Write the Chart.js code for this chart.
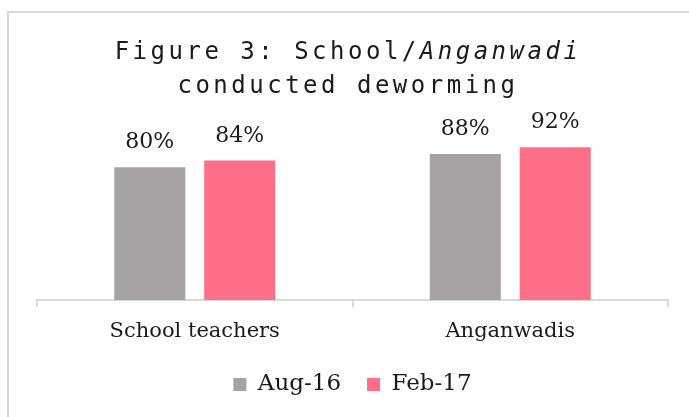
<!DOCTYPE html>
<html>
<head>
<meta charset="utf-8">
<script src="https://cdn.jsdelivr.net/npm/chart.js@4"></script>
<style>
  html, body { margin: 0; padding: 0; background: #fff; overflow: hidden; }
  #wrap { position: relative; width: 689px; height: 417px; overflow: hidden; }
  #title {
    position: absolute; left: 7px; top: 34px; width: 682px; text-align: center;
    font-family: "DejaVu Sans Mono", monospace; font-size: 24px; line-height: 34px;
    letter-spacing: 3.5px; color: #1a1a1a; white-space: nowrap;
  }
  #salesChart { position: absolute; left: 0; top: 0; }
</style>
</head>
<body>
<div id="wrap">
  <canvas id="salesChart" width="689" height="417"></canvas>
  <div id="title">Figure 3: School/<i>Anganwadi</i><br>conducted deworming</div>
</div>
<script>
var categories = ['School teachers', 'Anganwadis'];
var seriesNames = ['Aug-16', 'Feb-17'];
var aug16 = [80, 88];
var feb17 = [84, 92];

var labelFont = '"DejaVu Serif", serif';

// light frame, only top and left edges are visible
var frame = {
    id: 'frame',
    beforeDraw: function(chart) {
        var ctx = chart.ctx;
        ctx.save();
        ctx.strokeStyle = '#d9d9d9';
        ctx.lineWidth = 2;
        ctx.beginPath();
        ctx.moveTo(8, chart.height);
        ctx.lineTo(8, 12);
        ctx.lineTo(chart.width, 12);
        ctx.stroke();
        ctx.restore();
    }
};

// values drawn above each bar
var barLabels = {
    id: 'barLabels',
    afterDatasetsDraw: function(chart) {
        var ctx = chart.ctx;
        ctx.save();
        ctx.font = '22px ' + labelFont;
        ctx.fillStyle = '#1a1a1a';
        ctx.textAlign = 'center';
        ctx.textBaseline = 'alphabetic';
        chart.data.datasets.forEach(function(ds, i) {
            chart.getDatasetMeta(i).data.forEach(function(bar, j) {
                ctx.fillText(ds.data[j] + '%', bar.x, bar.y - 19);
            });
        });
        ctx.restore();
    }
};

var ctx = document.getElementById('salesChart').getContext('2d');
var salesChart = new Chart(ctx, {
    type: 'bar',
    data: {
        labels: categories,
        datasets: [
            {
                label: seriesNames[0],
                data: aug16,
                backgroundColor: '#a7a3a4',
                categoryPercentage: 0.57,
                barPercentage: 0.79
            },
            {
                label: seriesNames[1],
                data: feb17,
                backgroundColor: '#ff6f88',
                categoryPercentage: 0.57,
                barPercentage: 0.79
            }
        ]
    },
    options: {
        responsive: false,
        animation: false,
        layout: {
            padding: {top: 134, left: 37, right: 21, bottom: 11}
        },
        plugins: {
            title: {display: false},
            tooltip: {enabled: false},
            legend: {
                position: 'bottom',
                labels: {
                    boxWidth: 13,
                    boxHeight: 13,
                    padding: 26,
                    color: '#1a1a1a',
                    font: {family: labelFont, size: 23}
                }
            }
        },
        scales: {
            x: {
                offset: true,
                grid: {
                    display: true,
                    offset: true,
                    drawOnChartArea: false,
                    tickLength: 7,
                    color: '#d9d9d9',
                    lineWidth: 2
                },
                border: {display: true, color: '#d9d9d9', width: 2},
                ticks: {
                    padding: 12,
                    color: '#1a1a1a',
                    font: {family: labelFont, size: 21}
                },
                afterFit: function(scale) {
                    scale.height = 47;
                }
            },
            y: {
                display: false,
                min: 0,
                max: 100
            }
        }
    },
    plugins: [frame, barLabels]
});
</script>
</body>
</html>
